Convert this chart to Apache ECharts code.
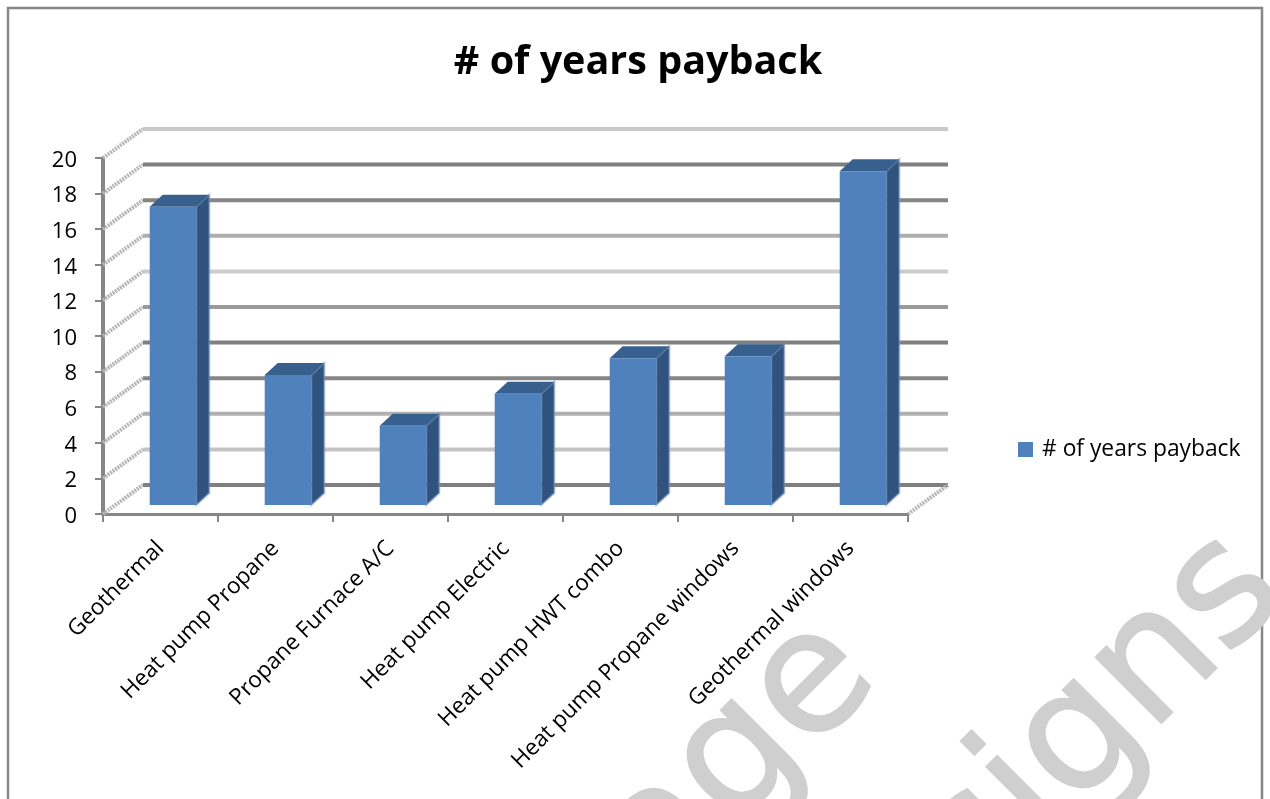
<!DOCTYPE html>
<html>
<head>
<meta charset="utf-8">
<style>html,body{margin:0;padding:0;background:#fff}#c{width:1270px;height:799px}</style>
<script src="https://cdn.jsdelivr.net/npm/echarts@6/dist/echarts.min.js"></script>
</head>
<body>
<div id="c"></div>
<script>
const chartTitle = '# of years payback';
const seriesName = '# of years payback';
const categories = ['Geothermal','Heat pump Propane','Propane Furnace A/C','Heat pump Electric','Heat pump HWT combo','Heat pump Propane windows','Geothermal windows'];
const paybackYears = [16.75, 7.3, 4.45, 6.25, 8.25, 8.35, 18.75];
const yTicks = [0,2,4,6,8,10,12,14,16,18,20];
const gridTones = ['#7f7f7f','#c4c4c4','#b0b0b0','#858585','#808080','#9a9a9a','#cccccc','#aeaeae','#858585','#7f7f7f','#c8c8c8'];

const FONT = 'Open Sans';
const wall = {dx: 40, dy: -29};
const barShift = {dx: 12.5, dy: -9};
const depth = {dx: 13, dy: -12};

const chart = echarts.init(document.getElementById('c'), null, {renderer:'canvas'});
chart.setOption({
  animation: false,
  backgroundColor: '#fff',
  title: {
    text: chartTitle, left: 633, top: 38, textAlign: 'center',
    textStyle: {fontFamily: FONT, fontSize: 39.5, fontWeight: 'bold', color: '#000'}
  },
  legend: {
    left: 1013, top: 433, orient: 'vertical', itemWidth: 15, itemHeight: 15, itemGap: 0,
    data: [{name: seriesName, icon: 'rect'}],
    selectedMode: false,
    textStyle: {fontFamily: FONT, fontSize: 22.8, color: '#000', padding: [0,0,0,4]}
  },
  grid: {left: 103, right: 362, top: 158, bottom: 285, containLabel: false},
  xAxis: {
    type: 'category', data: categories,
    axisLine: {lineStyle: {color: '#868686', width: 3}},
    axisTick: {show: true, length: 8, lineStyle: {color: '#868686', width: 2}},
    axisLabel: {rotate: 45, interval: 0, margin: 31, fontFamily: FONT, fontSize: 22.5, color: '#000'},
    splitLine: {show: false}
  },
  yAxis: {
    type: 'value', min: 0, max: 20, interval: 2,
    axisLine: {show: true, lineStyle: {color: '#868686', width: 4}},
    axisTick: {show: true, length: 8, lineStyle: {color: '#868686', width: 2}},
    axisLabel: {
      margin: 26, color: '#000', formatter: '{v|{value}}',
      rich: {v: {fontFamily: FONT, fontSize: 22, color: '#000', padding: [5,0,0,0]}}
    },
    splitLine: {show: false}
  },
  graphic: [
    {type:'rect', z:-2, shape:{x:8,y:8,width:1254,height:900}, style:{fill:'none',stroke:'#868686',lineWidth:2.5}},
    {type:'text', z:-1, x:851, y:649, rotation:Math.PI/4,
      style:{text:'age', fontFamily:'DejaVu Sans', fontSize:170, fill:'#cfcfcf', stroke:'#cfcfcf', lineWidth:2, textAlign:'right', textVerticalAlign:'middle'}},
    {type:'text', z:-1, x:1258, y:564, rotation:Math.PI/4,
      style:{text:'signs', fontFamily:'DejaVu Sans', fontSize:170, fill:'#cfcfcf', stroke:'#cfcfcf', lineWidth:2, textAlign:'right', textVerticalAlign:'middle'}}
  ],
  series: [
    {
      type: 'custom', name: 'walls', silent: true, z: 1, clip: false,
      coordinateSystem: 'cartesian2d',
      data: yTicks.map((t,i)=>[0,t,i]),
      encode: {x:0, y:1},
      renderItem(params, api){
        const y = api.coord([0, api.value(1)])[1];
        const cs = params.coordSys;
        const tone = gridTones[api.value(2)];
        const left = cs.x, right = cs.x + cs.width;
        const children = [
          {type:'line', shape:{x1:left, y1:y, x2:left+wall.dx, y2:y+wall.dy},
           style:{stroke:'#b5b5b5', lineWidth:4, lineDash:[2,1]}},
          {type:'line', shape:{x1:left+wall.dx, y1:y+wall.dy, x2:right+wall.dx, y2:y+wall.dy},
           style:{stroke:tone, lineWidth:4}}
        ];
        if (api.value(1) === 0) {
          children.push({type:'line', shape:{x1:right, y1:y, x2:right+wall.dx, y2:y+wall.dy},
            style:{stroke:'#b5b5b5', lineWidth:4, lineDash:[2,1]}});
        }
        return {type:'group', children};
      }
    },
    {
      type: 'custom', name: seriesName, silent: true, z: 2, clip: false,
      coordinateSystem: 'cartesian2d',
      itemStyle: {color: '#4f81bd'},
      data: paybackYears.map((v,i)=>[i,v]),
      encode: {x:0, y:1},
      renderItem(params, api){
        const top = api.coord([api.value(0), api.value(1)]);
        const base = api.coord([api.value(0), 0]);
        const w = api.size([1,0])[0] * 0.405;
        const xl = top[0] - w/2 + barShift.dx, xr = xl + w;
        const yt = top[1] + barShift.dy, yb = base[1] + barShift.dy;
        return {type:'group', children:[
          {type:'polygon', shape:{points:[[xr,yt],[xr+depth.dx,yt+depth.dy],[xr+depth.dx,yb+depth.dy],[xr,yb]]},
           style:{fill:'#30527e', stroke:'rgba(120,150,185,0.55)', lineWidth:2}},
          {type:'polygon', shape:{points:[[xl,yt],[xr,yt],[xr+depth.dx,yt+depth.dy],[xl+depth.dx,yt+depth.dy]]},
           style:{fill:'#38608f'}},
          {type:'rect', shape:{x:xl, y:yt, width:w, height:yb-yt}, style:{fill:'#4f81bd'}}
        ]};
      }
    }
  ]
});
</script>
</body>
</html>
